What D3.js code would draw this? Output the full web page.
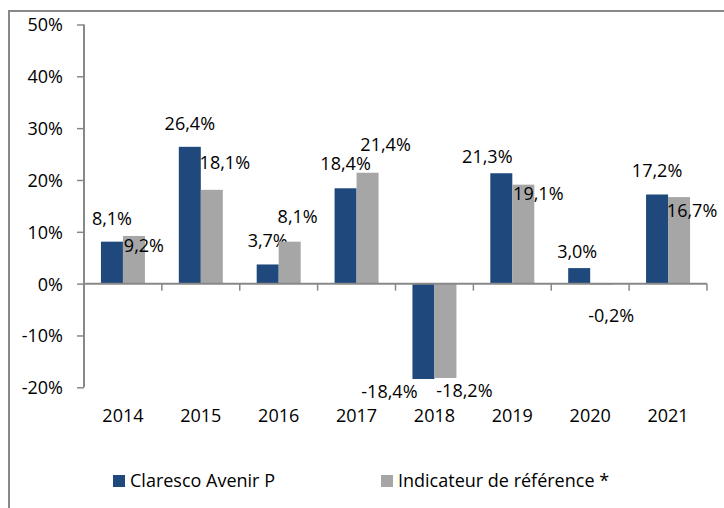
<!DOCTYPE html>
<html>
<head>
<meta charset="utf-8">
<script src="https://cdn.jsdelivr.net/npm/d3@7"></script>
<style>
    body { margin: 0; background: #fff; }
    text { font-family: "Open Sans", sans-serif; font-size: 18px; fill: #000; }
</style>
</head>
<body>
<script>
const width = 724;
const height = 508;

// data
var years = ["2014", "2015", "2016", "2017", "2018", "2019", "2020", "2021"];
var seriesNames = ["Claresco Avenir P", "Indicateur de référence *"];
var fundValues = [8.1, 26.4, 3.7, 18.4, -18.4, 21.3, 3.0, 17.2];
var benchValues = [9.2, 18.1, 8.1, 21.4, -18.2, 19.1, -0.2, 16.7];
var yTicks = [-20, -10, 0, 10, 20, 30, 40, 50];

// label nudges [dx, dy] from the bar end, the labels are moved around in the original
var fundLabelNudge = [[0, -17], [0, -17], [0, -17], [0, -18], [-34, 19], [-14, -10], [-2, -10], [0, -17]];
var benchLabelNudge = [[10, 16], [13, -21], [8, -19], [18, -22], [19, 19], [15, 15], [10, 37], [13, 20]];

var colors = ["#1F497D", "#A6A6A6"];
var svg, x_scale, x_inner, y_scale;

function fmt(v) {
    return v.toFixed(1).replace(".", ",") + "%";
}

function generateScale() {
    x_scale = d3.scaleBand().domain(years).range([84, 707]).padding(0);
    x_inner = d3.scaleBand().domain([0, 1]).range([0, x_scale.bandwidth()])
        .paddingInner(0).paddingOuter(0.77);
    y_scale = d3.scaleLinear().domain([-20, 50]).range([387.3, 24.5]);
}

function generateAxis() {
    // y axis
    var y_axis = d3.axisLeft(y_scale).tickValues(yTicks)
        .tickSize(7).tickPadding(14)
        .tickFormat(function (d) { return d + "%"; });
    var gy = svg.append("g")
        .attr("transform", "translate(84, 0)")
        .call(y_axis);
    gy.select(".domain").attr("stroke", "#888").attr("stroke-width", 2)
        .attr("d", "M0," + y_scale(50) + "V" + y_scale(-20));
    gy.selectAll(".tick line").attr("stroke", "#888").attr("stroke-width", 1.5);
    gy.selectAll(".tick text").attr("dy", "0.36em").style("font-size", "18px")
        .attr("font-family", null).attr("fill", "#000");

    // x axis line at zero with ticks at category boundaries
    var y0 = y_scale(0);
    svg.append("line")
        .attr("x1", 84).attr("x2", 707)
        .attr("y1", y0).attr("y2", y0)
        .attr("stroke", "#888").attr("stroke-width", 2);
    svg.selectAll(".xtick")
        .data(years)
        .enter()
        .append("line")
        .attr("class", "xtick")
        .attr("x1", function (d) { return x_scale(d) + x_scale.bandwidth(); })
        .attr("x2", function (d) { return x_scale(d) + x_scale.bandwidth(); })
        .attr("y1", y0)
        .attr("y2", y0 + 7)
        .attr("stroke", "#888").attr("stroke-width", 1.5);

    svg.selectAll(".xlabel")
        .data(years)
        .enter()
        .append("text")
        .attr("class", "xlabel")
        .attr("x", function (d) { return x_scale(d) + x_scale.bandwidth() / 2; })
        .attr("y", y_scale(-20) + 35)
        .attr("text-anchor", "middle")
        .text(function (d) { return d; });
}

function generateBars() {
    var sets = [fundValues, benchValues];
    var nudges = [fundLabelNudge, benchLabelNudge];
    sets.forEach(function (vals, s) {
        var g = svg.append("g");
        g.selectAll("rect")
            .data(vals)
            .enter()
            .append("rect")
            .attr("x", function (d, i) { return x_scale(years[i]) + x_inner(s); })
            .attr("width", x_inner.bandwidth())
            .attr("y", function (d) { return y_scale(Math.max(0, d)); })
            .attr("height", function (d) { return Math.abs(y_scale(d) - y_scale(0)); })
            .attr("fill", colors[s]);

        g.selectAll("text")
            .data(vals)
            .enter()
            .append("text")
            .attr("x", function (d, i) {
                return x_scale(years[i]) + x_inner(s) + x_inner.bandwidth() / 2 + nudges[s][i][0];
            })
            .attr("y", function (d, i) { return y_scale(d) + nudges[s][i][1]; })
            .attr("text-anchor", "middle")
            .text(function (d) { return fmt(d); });
    });
}

function generateLegend() {
    var pos = [113, 381];
    seriesNames.forEach(function (name, i) {
        svg.append("rect")
            .attr("x", pos[i]).attr("y", 475)
            .attr("width", 12).attr("height", 12)
            .attr("fill", colors[i]);
        svg.append("text")
            .attr("x", pos[i] + 17).attr("y", 487)
            .text(name);
    });
}

document.addEventListener("DOMContentLoaded", function () {
    svg = d3.select("body")
        .append("svg")
        .attr("width", width)
        .attr("height", height);

    // outer frame, runs off the right and bottom edges
    svg.append("rect")
        .attr("x", 9).attr("y", 11)
        .attr("width", 800).attr("height", 600)
        .attr("fill", "none")
        .attr("stroke", "#888")
        .attr("stroke-width", 2);

    generateScale();
    generateBars();
    generateAxis();
    generateLegend();
});
</script>
</body>
</html>
